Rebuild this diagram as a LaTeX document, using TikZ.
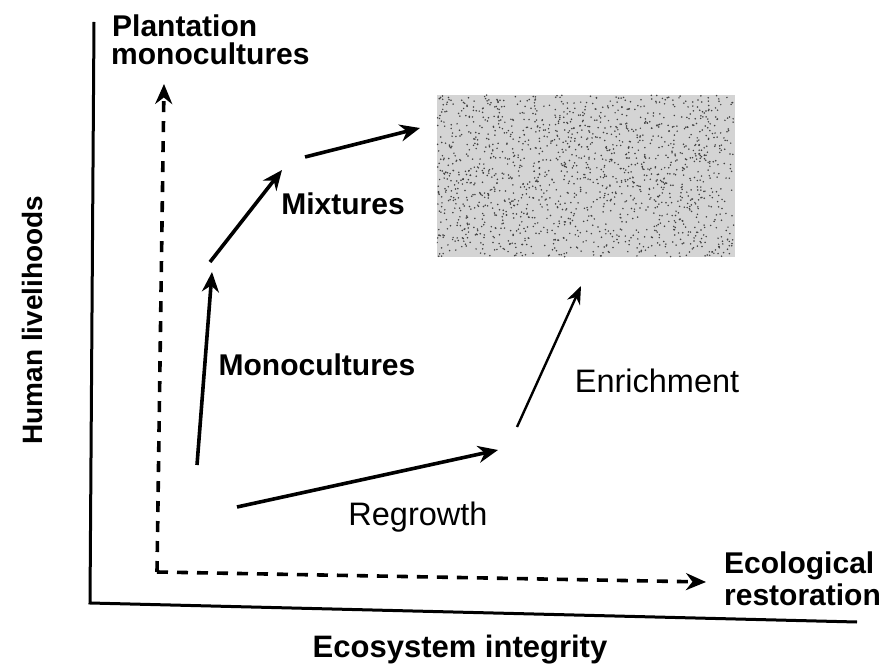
\documentclass[tikz,border=0pt]{standalone}
\usepackage{fontspec}
\setmainfont{Liberation Sans}
\usetikzlibrary{positioning, arrows.meta}

\begin{document}
\begin{tikzpicture}[
  x=1pt, y=-1pt,
  every node/.style={font=\fontsize{30}{28}\selectfont\bfseries, inner sep=0pt, anchor=base},
  thin lbl/.style={font=\fontsize{32.5}{33}\selectfont},
  axis/.style={line width=3pt},
  arrow/.style={-{Stealth[length=20pt, width=17pt]}, line width=3.6pt},
  light arrow/.style={-{Stealth[length=18pt, width=14pt]}, line width=2.4pt},
  dash arrow/.style={-{Stealth[length=20pt, width=17pt]}, line width=3.6pt,
                     dash pattern=on 11pt off 9pt},
]
  \useasboundingbox (0,0) rectangle (888,668);

  % axes
  \coordinate (top)    at (94,22);
  \coordinate (origin) at (90,603);
  \coordinate (right)  at (857,622);
  \draw[axis] (top) -- (origin) -- (right);

  % shaded target
  \node[fill=black!17, minimum width=298pt, minimum height=162pt, anchor=center]
    (goal) at (586,176) {};
  \begin{scope}
    \clip (goal.south west) rectangle (goal.north east);
    \pgfmathsetseed{11}
    \foreach \i in {1,...,1600}
      \fill[black!75] ({437+298*rnd},{95+162*rnd}) circle (0.85pt);
  \end{scope}

  % labels
  \node[anchor=base west] (plant) at (112,37) {Plantation};
  \node[anchor=base west] (plant2) at (111,65) {monocultures};
  \node[anchor=base west] (ecol) at (724,573) {Ecological};
  \node[anchor=base west] (ecol2) at (724,605) {restoration};
  \node (mix)   at (343,215) {Mixtures};
  \node (mono)  at (317,375) {Monocultures};
  \node[thin lbl] (enrich) at (657,392) {Enrichment};
  \node[thin lbl] (regrow) at (418,525) {Regrowth};
  \node[font=\fontsize{31}{33}\selectfont\bfseries] (xlab) at (460,657) {Ecosystem integrity};
  \node[rotate=90, font=\fontsize{28}{30}\selectfont\bfseries] (ylab) at (42,320) {Human livelihoods};

  % pathways
  \coordinate (start) at (157,572);
  \draw[dash arrow] (start) -- (164,84);
  \draw[dash arrow] (start) -- (706,582);

  \coordinate (m0) at (197,465);
  \coordinate (m1) at (212,272);
  \coordinate (x0) at (210,262);
  \coordinate (x1) at (282,170);
  \coordinate (g0) at (305,157);
  \coordinate (g1) at (420,128);
  \draw[arrow] (m0) -- (m1);
  \draw[arrow] (x0) -- (x1);
  \draw[arrow] (g0) -- (g1);

  \coordinate (r0) at (237,507);
  \coordinate (r1) at (498,450);
  \coordinate (e0) at (517,427);
  \coordinate (e1) at (581,286);
  \draw[arrow] (r0) -- (r1);
  \draw[light arrow] (e0) -- (e1);

\end{tikzpicture}
\end{document}
